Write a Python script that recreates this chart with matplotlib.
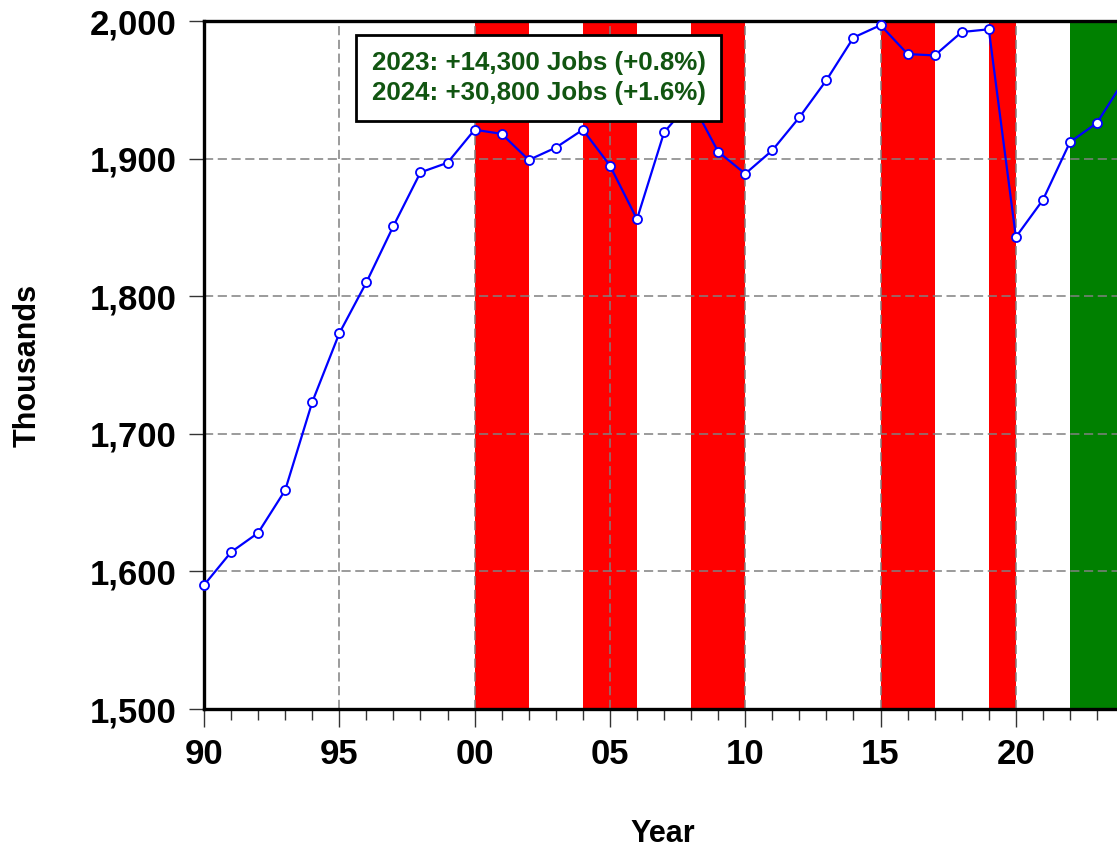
import matplotlib
matplotlib.use("Agg")
import matplotlib.pyplot as plt
from matplotlib.ticker import MultipleLocator, FixedLocator, FuncFormatter

plt.rcParams["font.family"] = ["Liberation Sans", "DejaVu Sans"]
plt.rcParams["font.weight"] = "bold"

YEARS = list(range(1990, 2025))
JOBS = [1590, 1614, 1628, 1659, 1723, 1773, 1810, 1851, 1890, 1897,
        1921, 1918, 1899, 1908, 1921, 1895, 1856, 1919, 1942, 1905,
        1889, 1906, 1930, 1957, 1988, 1997, 1976, 1975, 1992, 1994,
        1843, 1870, 1912, 1926, 1957]

RED_SPANS = [(2000, 2002), (2004, 2006), (2008, 2010), (2015, 2017), (2019, 2020)]
GREEN_SPAN = (2022, 2025)

NOTE = "2023: +14,300 Jobs (+0.8%)\n2024: +30,800 Jobs (+1.6%)"

XLIM = (1990, 2025)
YLIM = (1500, 2000)
MAJOR_YEARS = [1990, 1995, 2000, 2005, 2010, 2015, 2020]

fig = plt.figure(figsize=(11.17, 8.48), dpi=100)
# plot area runs past the right edge of the figure, as in the original
ax = fig.add_axes([0.1826, 0.1639, 0.848, 0.8113])

for a, b in RED_SPANS:
    ax.axvspan(a, b, color="#FF0000", lw=0, zorder=0.5)
ax.axvspan(*GREEN_SPAN, color="#008000", lw=0, zorder=0.5)

ax.plot(YEARS, JOBS, color="#0000FF", lw=1.6, marker="o", ms=6.5,
        mfc="white", mec="#0000FF", mew=1.3, zorder=3, clip_on=False)

ax.set_xlim(*XLIM)
ax.set_ylim(*YLIM)

ax.xaxis.set_major_locator(FixedLocator(MAJOR_YEARS))
ax.xaxis.set_minor_locator(MultipleLocator(1))
ax.yaxis.set_major_locator(MultipleLocator(100))
ax.xaxis.set_major_formatter(FuncFormatter(lambda v, p: f"{int(round(v)) % 100:02d}"))
ax.yaxis.set_major_formatter(FuncFormatter(lambda v, p: f"{int(v):,}"))

ax.tick_params(axis="x", which="major", length=13, width=1, color="#333333",
               labelsize=25, pad=8)
ax.tick_params(axis="x", which="minor", length=8, width=1, color="#333333")
ax.tick_params(axis="y", which="major", length=11, width=1, color="#333333",
               labelsize=25, pad=9)
for lab in ax.get_xticklabels() + ax.get_yticklabels():
    lab.set_fontweight("bold")

ax.grid(True, which="major", color="#808080", lw=1.1, linestyle=(0, (6, 3)))

for s in ax.spines.values():
    s.set_linewidth(2.4)
    s.set_color("black")

# axis titles placed on the figure
fig.text(28 / 1117, 1 - 365 / 848, "Thousands", fontsize=22, fontweight="bold",
         rotation=90, ha="center", va="center")
fig.text(663 / 1117, 1 - 834 / 848, "Year", fontsize=22, fontweight="bold",
         ha="center", va="center")

ax.text(2002.36, 1958.5, NOTE, ha="center", va="center", fontsize=18.6,
        fontweight="bold", color="#115511", linespacing=1.35, zorder=5,
        bbox=dict(boxstyle="square,pad=0.6", fc="white", ec="black", lw=2))

fig.savefig("out.png", dpi=100)
